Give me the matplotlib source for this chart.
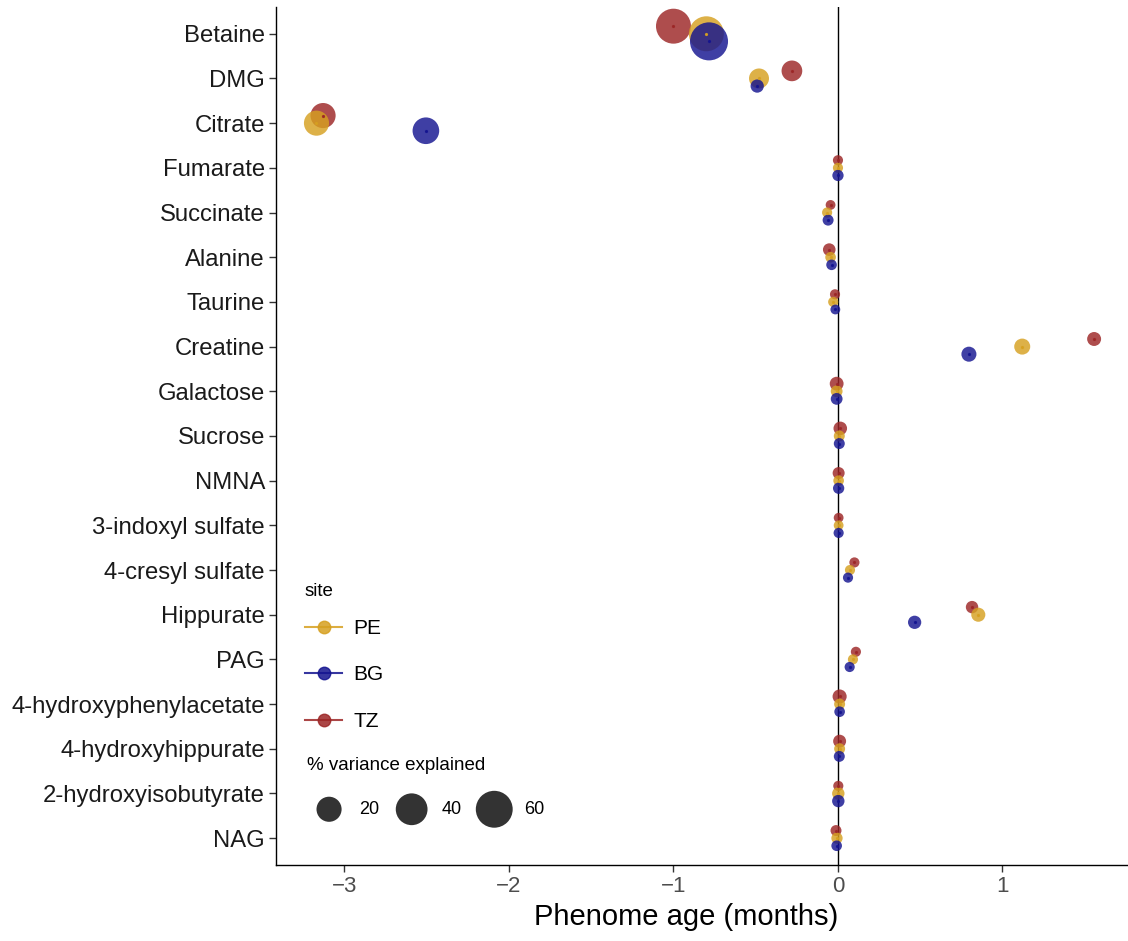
import numpy as np
import matplotlib
matplotlib.use('Agg')
import matplotlib.pyplot as plt
from matplotlib.lines import Line2D

plt.rcParams['font.family'] = ['Liberation Sans', 'DejaVu Sans']

# ================= data =================
metabolites = ['Betaine', 'DMG', 'Citrate', 'Fumarate', 'Succinate', 'Alanine',
               'Taurine', 'Creatine', 'Galactose', 'Sucrose', 'NMNA',
               '3-indoxyl sulfate', '4-cresyl sulfate', 'Hippurate', 'PAG',
               '4-hydroxyphenylacetate', '4-hydroxyhippurate',
               '2-hydroxyisobutyrate', 'NAG']

sites = ['TZ', 'PE', 'BG']

# phenome age effect (months)
age_tz = [-1.00, -0.28, -3.13, 0.00, -0.045, -0.053, -0.018, 1.557, -0.008, 0.014,
          0.004, 0.004, 0.100, 0.815, 0.109, 0.010, 0.010, 0.002, -0.012]
age_pe = [-0.80, -0.48, -3.17, 0.00, -0.066, -0.045, -0.029, 1.120, -0.008, 0.008,
          0.004, 0.004, 0.073, 0.853, 0.091, 0.010, 0.010, 0.002, -0.006]
age_bg = [-0.784, -0.491, -2.505, 0.00, -0.060, -0.039, -0.016, 0.796, -0.008, 0.008,
          0.004, 0.004, 0.061, 0.466, 0.071, 0.010, 0.008, 0.002, -0.008]

# % variance explained
var_tz = [52, 10.6, 20, 0.1, 0.05, 1.0, 0.1, 1.9, 1.8, 1.6,
          0.7, 0.05, 0.1, 0.9, 0.1, 2.0, 1.2, 0.1, 0.3]
var_pe = [52, 9.3, 20, 0.1, 0.1, 0.2, 0.1, 3.8, 0.6, 0.3,
          0.2, 0.05, 0.1, 2.0, 0.1, 0.3, 0.3, 0.9, 0.4]
var_bg = [65, 1.4, 24, 0.4, 0.3, 0.2, 0.05, 2.8, 0.6, 0.3,
          0.4, 0.1, 0.1, 1.4, 0.1, 0.2, 0.3, 0.9, 0.2]

size_breaks = [20, 40, 60]

site_colors = {'PE': '#D6A020', 'BG': '#141490', 'TZ': '#9C2626'}
site_dodge = {'TZ': -0.17, 'PE': 0.0, 'BG': 0.17}
ages = {'TZ': age_tz, 'PE': age_pe, 'BG': age_bg}
variances = {'TZ': var_tz, 'PE': var_pe, 'BG': var_bg}

DPI = 100
W, H = 1128, 941


def point_size(v):
    # ggplot-like area scale: diameter in px -> scatter area in pt^2
    d_px = 9 + 3.6 * np.sqrt(np.asarray(v, dtype=float))
    return (d_px * 72.0 / DPI) ** 2


# ================= plot =================
fig = plt.figure(figsize=(W / DPI, H / DPI), dpi=DPI)
ax = fig.add_axes([0.2447, 0.0808, 0.7553, 0.9118])

ypos = np.arange(len(metabolites))
ax.axvline(0, color='black', lw=1.0, zorder=1)

for s in sites:
    y = ypos + site_dodge[s]
    ax.scatter(ages[s], y, s=point_size(variances[s]), color=site_colors[s],
               alpha=0.82, edgecolors='none', zorder=3)
    ax.plot(ages[s], y, linestyle='none', marker='o', markersize=1.3,
            color=site_colors[s], alpha=0.9, zorder=4)

ax.set_xlim(-3.416, 1.763)
ax.set_ylim(len(metabolites) - 1 + 0.6, -0.6)
ax.set_yticks(ypos)
ax.set_yticklabels(metabolites, fontsize=17.2, color='#1a1a1a')
ax.set_xticks([-3, -2, -1, 0, 1])
ax.set_xticklabels(['\u22123', '\u22122', '\u22121', '0', '1'], fontsize=16, color='#4d4d4d')
ax.set_xlabel('Phenome age (months)', fontsize=21)
ax.xaxis.set_label_coords(0.481, -0.044, transform=ax.transAxes)
ax.xaxis.label.set_va('top')

for side in ['top', 'right']:
    ax.spines[side].set_visible(False)
for side in ['left', 'bottom']:
    ax.spines[side].set_linewidth(1.0)
ax.tick_params(axis='both', length=5, width=1.0, color='#333333', pad=3)

# legend: site
fig.text(305 / W, 1 - 592 / H, 'site', fontsize=13.5, va='center', ha='left')
site_handles = [Line2D([0], [0], color=site_colors[s], lw=1.5, marker='o',
                       markersize=9, alpha=0.85) for s in ['PE', 'BG', 'TZ']]
leg1 = fig.legend(site_handles, ['PE', 'BG', 'TZ'],
                  loc='upper left', bbox_to_anchor=(305 / W, 1 - 619 / H),
                  frameon=False, fontsize=15, borderpad=0, borderaxespad=0,
                  handlelength=1.78, handletextpad=0.55, labelspacing=1.32)

# legend: variance explained
fig.text(307 / W, 1 - 766 / H, '% variance explained', fontsize=13.5,
         va='center', ha='left')
size_handles = [plt.scatter([], [], s=point_size(b), color='#333333', edgecolors='none')
                for b in size_breaks]
leg2 = fig.legend(size_handles, [str(b) for b in size_breaks],
                  loc='upper left', bbox_to_anchor=(311 / W, 1 - 801 / H), ncol=3,
                  frameon=False, fontsize=13, borderpad=0, borderaxespad=0,
                  handlelength=2.0, handletextpad=0.66, columnspacing=0.8)

fig.savefig('out.png', dpi=DPI)
